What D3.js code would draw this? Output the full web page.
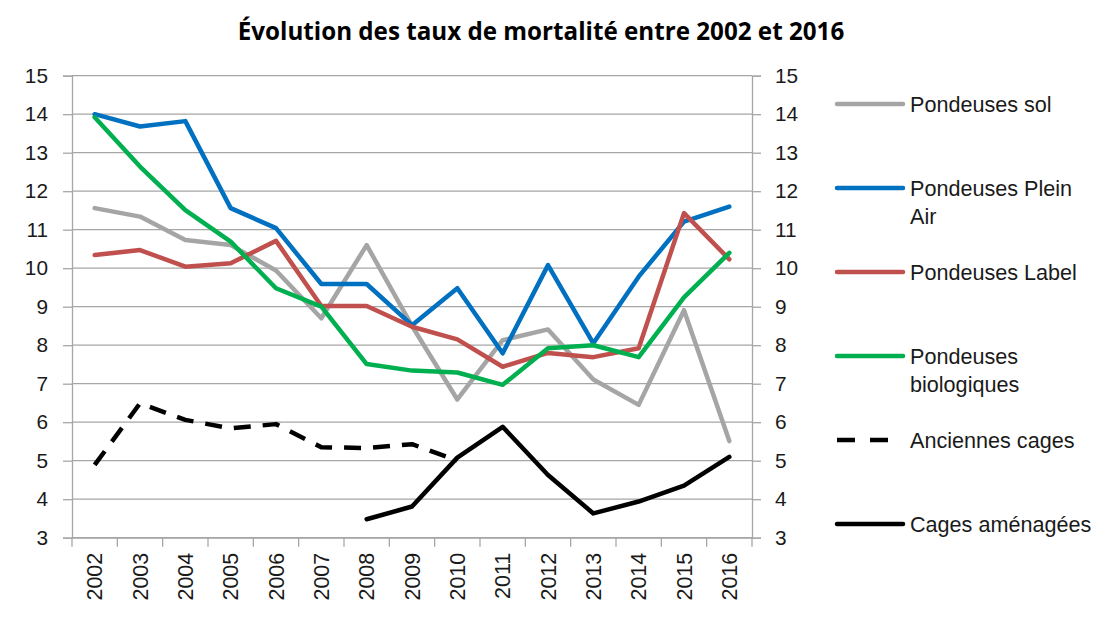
<!DOCTYPE html>
<html>
<head>
<meta charset="utf-8">
<script src="https://cdn.jsdelivr.net/npm/d3@7"></script>
<style>
  body { margin: 0; background: #fff; }
  svg text { font-family: "Liberation Sans", Arial, sans-serif; fill: #1a1a1a; }
</style>
</head>
<body>
<div id="chart"></div>
<script>
const years = ['2002', '2003', '2004', '2005', '2006', '2007', '2008', '2009',
    '2010', '2011', '2012', '2013', '2014', '2015', '2016'];
const yTicks = [3, 4, 5, 6, 7, 8, 9, 10, 11, 12, 13, 14, 15];

const pondeusesSol = [11.56, 11.34, 10.73, 10.6, 9.94, 8.7, 10.6, 8.5, 6.59, 8.13, 8.41, 7.11, 6.45, 8.91, 5.51];
const pondeusesPleinAir = [14.0, 13.68, 13.82, 11.56, 11.04, 9.59, 9.59, 8.52, 9.48, 7.79, 10.08, 8.05, 9.78, 11.21, 11.6];
const pondeusesLabel = [10.34, 10.47, 10.04, 10.13, 10.71, 9.02, 9.02, 8.48, 8.15, 7.44, 7.8, 7.69, 7.92, 11.43, 10.23];
const pondeusesBio = [13.92, 12.64, 11.51, 10.69, 9.48, 9.0, 7.51, 7.34, 7.29, 6.97, 7.92, 8.0, 7.69, 9.24, 10.4];
const anciennesCages = [4.89, 6.49, 6.06, 5.84, 5.95, 5.35, 5.33, 5.43, 5.0, null, null, null, null, null, null];
const cagesAmenagees = [null, null, null, null, null, null, 3.48, 3.81, 5.08, 5.88, 4.63, 3.63, 3.94, 4.35, 5.1];

const series = [
    { name: ['Pondeuses sol'], values: pondeusesSol, color: '#a5a5a5', dash: null },
    { name: ['Pondeuses Plein', 'Air'], values: pondeusesPleinAir, color: '#0070c0', dash: null },
    { name: ['Pondeuses Label'], values: pondeusesLabel, color: '#c0504d', dash: null },
    { name: ['Pondeuses', 'biologiques'], values: pondeusesBio, color: '#00b050', dash: null },
    { name: ['Anciennes cages'], values: anciennesCages, color: '#000', dash: '17,12' },
    { name: ['Cages aménagées'], values: cagesAmenagees, color: '#000', dash: null }
];

const width = 1120;
const height = 631;
const plot = { left: 72, right: 752, top: 75.7, bottom: 537.7 };
const gridColor = '#a6a6a6';

const svg = d3.select('#chart')
    .append('svg')
    .attr('width', width)
    .attr('height', height);

const x = d3.scaleBand()
    .domain(years)
    .range([plot.left, plot.right]);

const y = d3.scaleLinear()
    .domain([3, 15])
    .range([plot.bottom, plot.top]);

svg.append('text')
    .attr('x', 541)
    .attr('y', 40)
    .attr('text-anchor', 'middle')
    .style('font-family', '"Open Sans", sans-serif')
    .style('font-weight', 'bold')
    .style('font-size', '24.2px')
    .style('fill', '#000')
    .text('Évolution des taux de mortalité entre 2002 et 2016');

// horizontal gridlines
svg.append('g')
    .selectAll('line')
    .data(yTicks)
    .join('line')
    .attr('x1', plot.left)
    .attr('x2', plot.right)
    .attr('y1', d => y(d))
    .attr('y2', d => y(d))
    .attr('stroke', gridColor)
    .attr('stroke-width', 1.3);

const leftAxis = svg.append('g')
    .attr('transform', `translate(${plot.left},0)`)
    .call(d3.axisLeft(y).tickValues(yTicks).tickSize(9).tickPadding(15));

const rightAxis = svg.append('g')
    .attr('transform', `translate(${plot.right},0)`)
    .call(d3.axisRight(y).tickValues(yTicks).tickSize(9).tickPadding(14));

const bottomAxis = svg.append('g')
    .attr('transform', `translate(0,${plot.bottom})`)
    .call(d3.axisBottom(x).tickSize(0).tickPadding(0));

// tick marks between categories
const bounds = years.map(d => x(d)).concat([plot.right]);
bottomAxis.selectAll('.sep')
    .data(bounds)
    .join('line')
    .attr('class', 'sep')
    .attr('x1', d => d)
    .attr('x2', d => d)
    .attr('y1', 0)
    .attr('y2', 9)
    .attr('stroke', gridColor)
    .attr('stroke-width', 1.3);

bottomAxis.selectAll('.tick text')
    .attr('transform', 'rotate(-90)')
    .attr('text-anchor', 'end')
    .attr('x', -15)
    .attr('y', 0)
    .attr('dy', '0.35em');

[leftAxis, rightAxis, bottomAxis].forEach(a => {
    a.select('.domain').attr('stroke', gridColor).attr('stroke-width', 1.3);
    a.selectAll('.tick line').attr('stroke', gridColor).attr('stroke-width', 1.3);
    a.selectAll('text')
        .style('font-size', '20.8px')
        .style('font-family', '"Liberation Sans", Arial, sans-serif')
        .attr('fill', '#1a1a1a');
});
bottomAxis.selectAll('.tick text').style('font-size', '21.5px');

const line = d3.line()
    .defined(d => d != null)
    .x((d, i) => x(years[i]) + x.bandwidth() / 2)
    .y(d => y(d));

svg.append('g')
    .selectAll('path')
    .data(series)
    .join('path')
    .attr('d', d => line(d.values))
    .attr('fill', 'none')
    .attr('stroke', d => d.color)
    .attr('stroke-width', 4.5)
    .attr('stroke-linejoin', 'round')
    .attr('stroke-linecap', d => d.dash ? 'butt' : 'round')
    .attr('stroke-dasharray', d => d.dash);

// legend
const legend = svg.append('g')
    .selectAll('g')
    .data(series)
    .join('g')
    .attr('transform', (d, i) => `translate(837,${104 + i * 84})`);

legend.append('line')
    .attr('x1', 0)
    .attr('x2', 66)
    .attr('stroke', d => d.color)
    .attr('stroke-width', 4.5)
    .attr('stroke-linecap', d => d.dash ? 'butt' : 'round')
    .attr('stroke-dasharray', d => d.dash ? '18,15' : null);

legend.append('text')
    .attr('x', 73)
    .attr('y', 0)
    .style('font-size', '21.6px')
    .selectAll('tspan')
    .data(d => d.name)
    .join('tspan')
    .attr('x', 73)
    .attr('dy', (d, i) => i === 0 ? '0.35em' : '28px')
    .text(d => d);
</script>
</body>
</html>
